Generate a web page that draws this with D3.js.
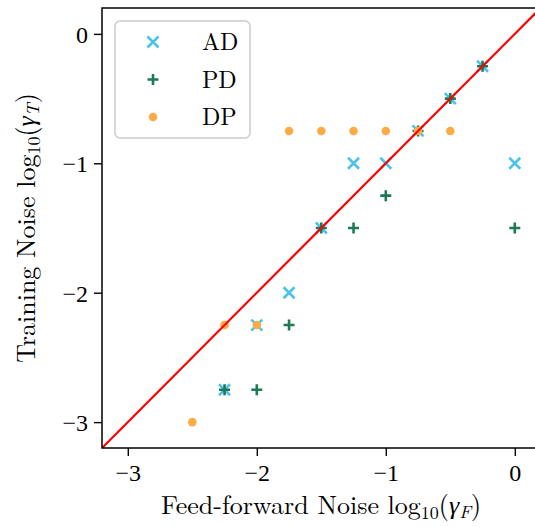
<!DOCTYPE html>
<html>
<head>
<meta charset="utf-8">
<script src="https://cdn.jsdelivr.net/npm/d3@7"></script>
<style>
  body { margin: 0; background: #fff; }
  svg text { font-family: "Latin Modern Roman", "CMU Serif", "Liberation Serif", "DejaVu Serif", serif; fill: #000; }
</style>
</head>
<body>
<svg width="535" height="527"></svg>
<script>
// feed-forward noise (x) and training noise (y), both log10
const adX = [-2.25, -2, -1.75, -1.5, -1.25, -1, -0.75, -0.5, -0.25, 0];
const adY = [-2.75, -2.25, -2, -1.5, -1, -1, -0.75, -0.5, -0.25, -1];
const pdX = [-2.25, -2, -1.75, -1.5, -1.25, -1, -0.75, -0.5, -0.25, 0];
const pdY = [-2.75, -2.75, -2.25, -1.5, -1.5, -1.25, -0.75, -0.5, -0.25, -1.5];
const dpX = [-2.5, -2.25, -2, -1.75, -1.5, -1.25, -1, -0.75, -0.5];
const dpY = [-3, -2.25, -2.25, -0.75, -0.75, -0.75, -0.75, -0.75, -0.75];
const seriesNames = ['AD', 'PD', 'DP'];
const ticks = [-3, -2, -1, 0];

const colors = { AD: '#4cc3eb', PD: '#1d7a54', DP: '#ffab45' };

const svg = d3.select('svg');
const mLeft = 102, mRight = 540.6, mTop = 8, mBottom = 448;

const x = d3.scaleLinear().domain([-3.2, 0.2]).range([mLeft, mRight]);
const y = d3.scaleLinear().domain([-3.2, 0.2]).range([mBottom, mTop]);

const zip = (xs, ys) => xs.map((v, i) => ({ x: v, y: ys[i] }));
const series = [
  { name: 'AD', pts: zip(adX, adY) },
  { name: 'PD', pts: zip(pdX, pdY) },
  { name: 'DP', pts: zip(dpX, dpY) }
];

svg.append('defs').append('clipPath').attr('id', 'plot')
  .append('rect').attr('x', mLeft).attr('y', mTop)
  .attr('width', mRight - mLeft).attr('height', mBottom - mTop);

// markers
function drawMarker(g, name, cx, cy) {
  if (name === 'AD') {
    const s = 5.5;
    g.append('path')
      .attr('d', `M${cx - s},${cy - s}L${cx + s},${cy + s}M${cx - s},${cy + s}L${cx + s},${cy - s}`)
      .attr('stroke', colors.AD).attr('stroke-width', 2.6).attr('fill', 'none');
  } else if (name === 'PD') {
    const s = 5.5;
    g.append('path')
      .attr('d', `M${cx - s},${cy}L${cx + s},${cy}M${cx},${cy - s}L${cx},${cy + s}`)
      .attr('stroke', colors.PD).attr('stroke-width', 2.6).attr('fill', 'none');
  } else {
    g.append('circle').attr('cx', cx).attr('cy', cy).attr('r', 4.3)
      .attr('fill', colors.DP);
  }
}

const plot = svg.append('g').attr('clip-path', 'url(#plot)');

series.forEach(s => {
  const g = plot.append('g').attr('class', 'series-' + s.name);
  s.pts.forEach(p => drawMarker(g, s.name, x(p.x), y(p.y)));
});

// identity line
plot.append('line')
  .attr('x1', x(-3.2)).attr('y1', y(-3.2))
  .attr('x2', x(0.2)).attr('y2', y(0.2))
  .attr('stroke', '#ff0000').attr('stroke-width', 2.2);

// axes
const fmt = d => d3.format('d')(d).replace('-', '\u2212');
const xAxis = svg.append('g').attr('transform', `translate(0,${mBottom})`)
  .call(d3.axisBottom(x).tickValues(ticks).tickFormat(fmt).tickSize(8).tickPadding(6));
const yAxis = svg.append('g').attr('transform', `translate(${mLeft},0)`)
  .call(d3.axisLeft(y).tickValues(ticks).tickFormat(fmt).tickSize(8).tickPadding(6));

[xAxis, yAxis].forEach(a => {
  a.select('.domain').remove();
  a.selectAll('.tick line').attr('stroke', '#000').attr('stroke-width', 1.4);
  a.selectAll('.tick text').attr('font-size', 24)
    .style('font-family', '"Liberation Serif", serif');
});
xAxis.selectAll('.tick text').attr('dy', '0.8em');
yAxis.selectAll('.tick text').attr('dy', '0.35em');

// frame
svg.append('rect')
  .attr('x', mLeft).attr('y', mTop)
  .attr('width', mRight - mLeft).attr('height', mBottom - mTop)
  .attr('fill', 'none').attr('stroke', '#000').attr('stroke-width', 1.5);

// axis labels
const xl = svg.append('text')
  .attr('x', 321).attr('y', 514)
  .attr('text-anchor', 'middle').attr('font-size', 26);
xl.append('tspan').text('Feed-forward Noise log');
xl.append('tspan').attr('font-size', 18).attr('dy', 5).text('10');
xl.append('tspan').attr('dy', -5).text('(');
xl.append('tspan').attr('font-style', 'italic').text('γ');
xl.append('tspan').attr('font-style', 'italic').attr('font-size', 18).attr('dy', 4).text('F');
xl.append('tspan').attr('dy', -4).text(')');

const yl = svg.append('text')
  .attr('transform', `translate(35,${(mTop + mBottom) / 2}) rotate(-90)`)
  .attr('text-anchor', 'middle').attr('font-size', 26);
yl.append('tspan').text('Training Noise log');
yl.append('tspan').attr('font-size', 18).attr('dy', 5).text('10');
yl.append('tspan').attr('dy', -5).text('(');
yl.append('tspan').attr('font-style', 'italic').text('γ');
yl.append('tspan').attr('font-style', 'italic').attr('font-size', 18).attr('dy', 4).text('T');
yl.append('tspan').attr('dy', -4).text(')');

// legend
const legend = svg.append('g');
legend.append('rect')
  .attr('x', 115).attr('y', 21).attr('width', 135).attr('height', 117)
  .attr('rx', 5).attr('ry', 5)
  .attr('fill', 'rgba(255,255,255,0.85)').attr('stroke', '#cccccc').attr('stroke-width', 1.5);
seriesNames.forEach((name, i) => {
  const cy = 42 + i * 37.5;
  drawMarker(legend, name, 153, cy);
  legend.append('text').attr('x', 202).attr('y', cy).attr('dy', '0.35em')
    .attr('font-size', 24).text(name);
});
</script>
</body>
</html>
